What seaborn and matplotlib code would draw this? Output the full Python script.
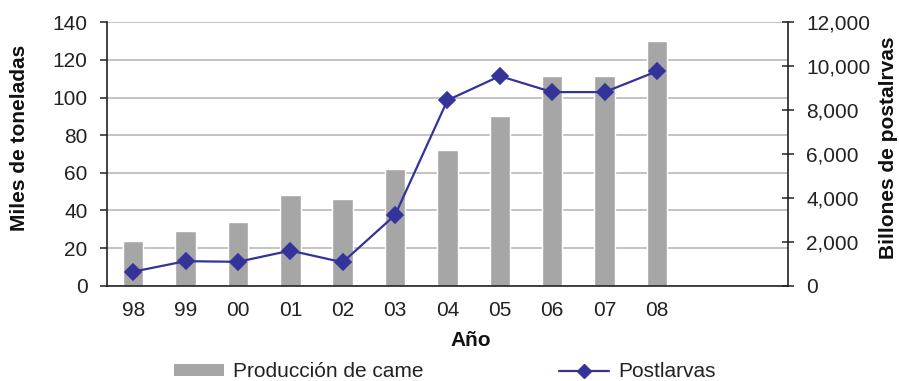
import matplotlib
matplotlib.use("Agg")
import matplotlib.pyplot as plt
from matplotlib.patches import Patch
from matplotlib.lines import Line2D
from matplotlib.ticker import FuncFormatter, MultipleLocator, FixedLocator
import numpy as np
import pandas as pd
import seaborn as sns

# Years (two trailing empty slots on the category axis)
years = ["98", "99", "00", "01", "02", "03", "04", "05", "06", "07", "08"]
empty_slots = ["", " "]
# Meat production, thousand tonnes
produccion = [24, 29, 34, 48, 46, 62, 72, 90, 111.5, 111.5, 130]
# Post-larvae, billions
postlarvas = [640, 1120, 1090, 1600, 1070, 3220, 8450, 9550, 8820, 8820, 9770]

bar_color = "#A6A6A6"
line_color = "#33339A"
grid_color = "#BEBEBE"
ink = "#222222"

sns.set_theme(style="white")
plt.rcParams["font.family"] = ["Liberation Sans", "DejaVu Sans"]

df = pd.DataFrame({"anio": years, "produccion": produccion, "postlarvas": postlarvas})
order = years + empty_slots

fig = plt.figure(figsize=(8.99, 3.81), dpi=100)
ax = fig.add_axes([0.119, 0.25, 0.7575, 0.6915])

sns.barplot(data=df, x="anio", y="produccion", order=order, ax=ax,
            color=bar_color, saturation=1, width=0.39, zorder=2)

ax2 = ax.twinx()
sns.pointplot(data=df, x="anio", y="postlarvas", order=order, ax=ax2,
              color=line_color, markers="D", markersize=8, linewidth=1.6,
              errorbar=None, zorder=3)

fs = 15
ax.set_xlim(-0.5, len(order) - 0.5)
ax2.set_xlim(-0.5, len(order) - 0.5)
ax.set_ylim(0, 140)
ax2.set_ylim(0, 12000)

ax.yaxis.set_major_locator(MultipleLocator(20))
ax2.yaxis.set_major_locator(MultipleLocator(2000))
ax2.yaxis.set_major_formatter(FuncFormatter(lambda v, p: f"{int(v):,}"))

ax.set_xticks(range(len(order)))
ax.set_xticklabels(order)
ax.xaxis.set_minor_locator(FixedLocator(np.arange(-0.5, len(order), 1.0)))
ax.tick_params(axis="x", which="major", length=0, pad=11, labelsize=fs, colors=ink)
ax.tick_params(axis="x", which="minor", length=4.5, width=1.1, color=ink, direction="out")
ax.tick_params(axis="y", length=5, width=1.1, color=ink, direction="out",
               labelsize=fs, labelcolor=ink, left=True, pad=9)
ax2.tick_params(axis="y", length=8, width=1.1, color=ink, direction="inout",
                labelsize=fs, labelcolor=ink, right=True, pad=9)

ax.yaxis.grid(True, color=grid_color, linewidth=1.3, zorder=0)
ax.set_axisbelow(True)

for a in (ax, ax2):
    for s in a.spines.values():
        s.set_visible(False)
ax.spines["left"].set_visible(True)
ax.spines["bottom"].set_visible(True)
ax2.spines["right"].set_visible(True)
for s in (ax.spines["left"], ax.spines["bottom"], ax2.spines["right"]):
    s.set_color(ink)
    s.set_linewidth(1.2)

ax.set_xlabel("")
ax.set_ylabel("")
ax2.set_ylabel("")
fig.text(471 / 899, 1 - 340 / 381, "Año", fontsize=fs, fontweight="bold",
         color="#111111", ha="center", va="center")
fig.text(20 / 899, 1 - 137.5 / 381, "Miles de toneladas", fontsize=fs,
         fontweight="bold", color="#111111", ha="center", va="center", rotation=90)
fig.text(889 / 899, 1 - 147.5 / 381, "Billones de postalrvas", fontsize=fs,
         fontweight="bold", color="#111111", ha="center", va="center", rotation=90)

handles = [
    Patch(facecolor=bar_color, edgecolor="none"),
    Line2D([], [], color=line_color, linewidth=1.6, marker="D", markersize=7),
]
fig.legend(handles, ["Producción de came", "Postlarvas"], loc="center",
           bbox_to_anchor=(0.495, 0.024), ncol=2, frameon=False, fontsize=fs,
           handlelength=2.4, handleheight=0.5, handletextpad=0.45,
           columnspacing=6.5, labelcolor=ink, borderpad=0)

fig.savefig("out.png", dpi=100)
